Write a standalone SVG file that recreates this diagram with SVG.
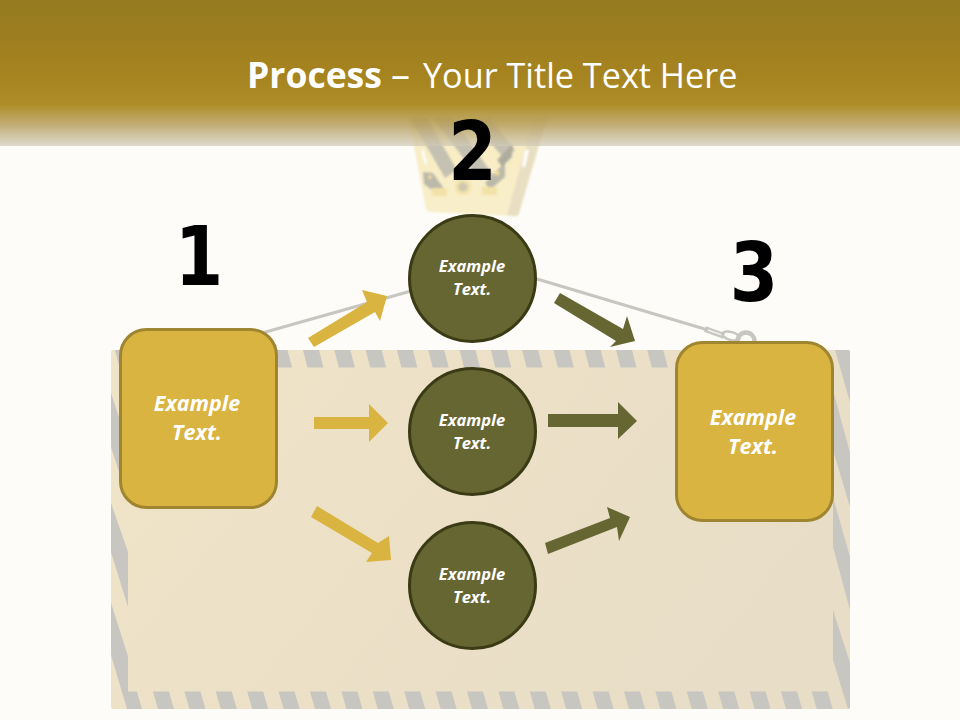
<svg xmlns="http://www.w3.org/2000/svg" width="960" height="720" viewBox="0 0 960 720">
<style>
.f{font-family:"Open Sans","Noto Sans",sans-serif}
.lbl{font-weight:700;font-style:italic;fill:#fff;text-anchor:middle}
.b{font-size:21.5px}
.c{font-size:16.500px}
.num{font-family:"DejaVu Sans",sans-serif;font-weight:700;font-size:82px;fill:#000;text-anchor:middle}
.s{fill:#c8c6c0}
.rope{fill:none;stroke:#c8c6c0;stroke-width:3}
.box{fill:#d9b440;stroke:#a08530;stroke-width:3}
.circ{fill:#666633;stroke:#3a3a14;stroke-width:3}
.y{fill:#d9b440}
.o{fill:#666633}
</style>
<defs>
<linearGradient id="hdr" x1="0" y1="0" x2="0" y2="1">
<stop offset="0" stop-color="#957a20"/>
<stop offset="0.5" stop-color="#a5831f"/>
<stop offset="0.72" stop-color="#ae8e28"/>
<stop offset="0.86" stop-color="#b8a060" stop-opacity="0.85"/>
<stop offset="1" stop-color="#d0cab8" stop-opacity="0.7"/>
</linearGradient>
<linearGradient id="card" x1="0" y1="0" x2="1" y2="0.4">
<stop offset="0" stop-color="#f0e4c8"/>
<stop offset="1" stop-color="#e8ddc6"/>
</linearGradient>
<linearGradient id="trap" x1="0" y1="0" x2="0" y2="1">
<stop offset="0" stop-color="#f8ecc0"/>
<stop offset="1" stop-color="#f8eecb"/>
</linearGradient>
<filter id="soft" x="-5%" y="-5%" width="110%" height="110%"><feGaussianBlur stdDeviation="1"/></filter>
</defs>
<rect width="960" height="720" fill="#fdfcf8"/>
<g id="backdrop">
<rect x="111" y="350" width="739" height="359" rx="2" fill="url(#card)"/>
<g class="s">
<path d="M115,350h16l4.500,17.500h-16zM146.300,350h16l4.500,17.500h-16zM177.600,350h16l4.500,17.500h-16zM208.900,350h16l4.500,17.500h-16zM240.200,350h16l4.500,17.500h-16zM271.500,350h16l4.500,17.500h-16zM303,350h16l4.500,17.500h-16zM334.300,350h16l4.500,17.500h-16zM365.600,350h16l4.500,17.500h-16zM396.900,350h16l4.500,17.500h-16zM428.200,350h16l4.500,17.500h-16zM459.500,350h16l4.500,17.500h-16zM490.800,350h16l4.500,17.500h-16zM522.100,350h16l4.500,17.500h-16zM553.400,350h16l4.500,17.500h-16zM584.700,350h16l4.500,17.500h-16zM616,350h16l4.500,17.500h-16zM647.300,350h16l4.500,17.500h-16z"/>
<path d="M153,691.500h16l5,17.500h-16zM184.400,691.500h16l5,17.500h-16zM215.800,691.500h16l5,17.500h-16zM247.200,691.500h16l5,17.500h-16zM278.600,691.500h16l5,17.500h-16zM310,691.500h16l5,17.500h-16zM341.400,691.500h16l5,17.500h-16zM372.800,691.500h16l5,17.500h-16zM404.200,691.500h16l5,17.500h-16zM435.600,691.500h16l5,17.500h-16zM467,691.500h16l5,17.500h-16zM498.400,691.500h16l5,17.500h-16zM529.800,691.500h16l5,17.500h-16zM561.200,691.500h16l5,17.500h-16zM592.600,691.500h16l5,17.500h-16zM624,691.500h16l5,17.500h-16zM655.400,691.500h16l5,17.500h-16zM686.800,691.500h16l5,17.500h-16zM718.200,691.500h16l5,17.500h-16zM749.600,691.500h16l5,17.500h-16zM781,691.500h16l5,17.500h-16zM811.700,691.500h16l5,17.500h-16z"/>
<path d="M111,393L128,445V500L111,447zM111,503L128,552V607L111,552zM111,603L128,656V691.500H137L142,709H127L111,655z"/>
<path d="M835,350H848Q850,350 850,352V402zM833,390L850,453V507L833,450zM833,497L850,557V610L833,547zM833,610L850,663V707Q850,709 848,709L833,660z"/>
</g>
</g>
<g id="hook-top" filter="url(#soft)">
<path d="M408,115L426,209Q427,212 431,212L513,216Q518,217 519,213L547,118z" fill="url(#trap)"/>
<path d="M534,118L547,118L519,213Q518,217 513,216L507,215z" fill="#e8dfc2"/>
<path d="M410,118H427L457,170L445,178zM433,118H453L493,175L480,180zM470,118H490L515,150L505,160z" fill="#c4c1b2"/>
<path d="M423,172L433,173L445,190H432L424,184zM497,170L505,163L505,177L490,190L485,183z" fill="#bcb9aa"/>
<path d="M497,160L513,143L512,157L502,167z" fill="#b0ad9f"/>
<circle cx="430" cy="177" r="2" fill="#efdc9e"/>
<circle cx="497" cy="173" r="2.500" fill="#efdc9e"/>
<circle cx="463" cy="187" r="6.500" fill="#cfc9ae" stroke="#f3e3aa" stroke-width="3.500"/>
<rect x="432" y="188" width="15" height="8" fill="#f3e2a8"/>
<rect x="482" y="187" width="15" height="8" fill="#f3e2a8"/>
<path d="M421,150H423.500L427,163L425,165zM525,150H529L525,167H522z" fill="#fff"/>
</g>
<g id="ropes">
<path class="rope" d="M537,279L708,330"/>
<path d="M705,329L724,336" fill="none" stroke="#c8c6c0" stroke-width="6"/>
<path d="M708,330L722,335" fill="none" stroke="#f4f2ec" stroke-width="1.500"/>
<ellipse cx="731" cy="336" rx="9" ry="4" transform="rotate(15 731 336)" fill="none" stroke="#c8c6c0" stroke-width="2.500"/>
<circle cx="746" cy="341" r="8.500" fill="none" stroke="#c8c6c0" stroke-width="4.500"/>
<path class="rope" d="M262,333L411,291"/>
</g>
<rect id="header" width="960" height="146" fill="url(#hdr)"/>
<text class="f" y="88" fill="#fff"><tspan x="247" font-weight="700" font-size="35.500">Process</tspan><tspan x="391" font-size="38">–</tspan><tspan x="423" font-size="34.200">Your Title Text Here</tspan></text>
<g id="connectors">
<polygon class="y" points="308,338 367,302 362,290 387,296 380,321 375,312 314,347"/>
<polygon class="y" points="314,417 369,417 369,404 388,423 369,442 369,429 314,429"/>
<polygon class="y" points="317,506 378,543 389,536 391,560 366,562 372,553 311,517"/>
<polygon class="o" points="560,293 623,329 627,316 635,341 610,347 616,341 554,303"/>
<polygon class="o" points="548,414 618,414 618,402 637,421 618,439 618,427 548,427"/>
<polygon class="o" points="545,543 610,518 607,507 630,517 619,541 617,527 548,554"/>
</g>
<g id="node-1">
<rect class="box" x="120.500" y="329.500" width="156" height="178" rx="26"/>
<text class="f lbl b" x="197" y="411">Example</text>
<text class="f lbl b" x="197" y="440">Text.</text>
<text class="num" transform="translate(199 285) scale(.85 1)">1</text>
</g>
<g id="node-2">
<circle class="circ" cx="472.500" cy="278.500" r="63"/>
<text class="f lbl c" x="472" y="272">Example</text>
<text class="f lbl c" x="472" y="295">Text.</text>
<text class="num" transform="translate(472.500 179.500) scale(.85 1)">2</text>
</g>
<g id="node-3">
<circle class="circ" cx="472.500" cy="431.500" r="63"/>
<text class="f lbl c" x="472" y="426">Example</text>
<text class="f lbl c" x="472" y="449">Text.</text>
</g>
<g id="node-4">
<circle class="circ" cx="472.500" cy="585.500" r="63"/>
<text class="f lbl c" x="472" y="580">Example</text>
<text class="f lbl c" x="472" y="603">Text.</text>
</g>
<g id="node-5">
<rect class="box" x="676.500" y="342.500" width="156" height="178" rx="26"/>
<text class="f lbl b" x="753" y="425">Example</text>
<text class="f lbl b" x="753" y="454">Text.</text>
<text class="num" transform="translate(754 301) scale(.85 1)">3</text>
</g>
</svg>
